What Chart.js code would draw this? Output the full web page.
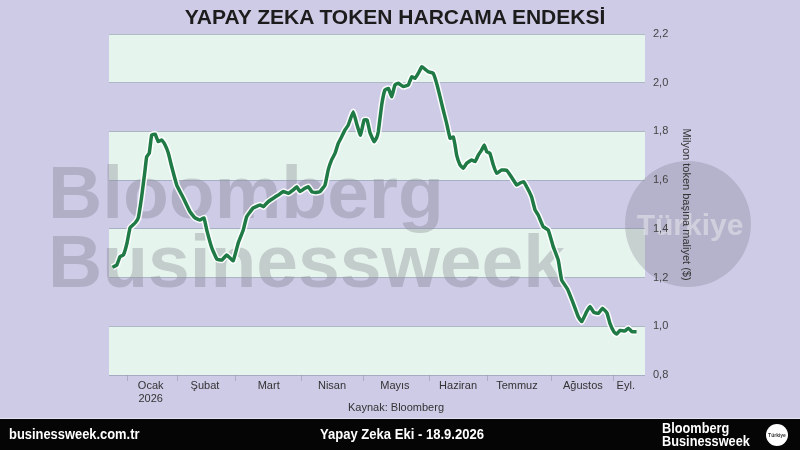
<!DOCTYPE html>
<html lang="tr">
<head>
<meta charset="utf-8">
<title>Yapay Zeka Token Harcama Endeksi</title>
<script src="https://cdn.jsdelivr.net/npm/chart.js@4.4.1/dist/chart.umd.min.js"></script>
<style>
  html, body { margin: 0; padding: 0; }
  body {
    width: 800px; height: 450px; position: relative; overflow: hidden;
    background: #cecbe7;
    font-family: "Liberation Sans", Arial, sans-serif;
  }
  #kutu { position: absolute; left: 0; top: 0; width: 800px; height: 418px; }
  #baslik {
    position: absolute; top: 5px; left: 0; width: 790px; text-align: center;
    font-weight: bold; font-size: 21px; color: #1c1c1c;
  }
  #kaynak {
    position: absolute; top: 401px; left: 0; width: 792px; text-align: center;
    font-size: 11px; color: #333;
  }
  #altbant {
    position: absolute; left: 0; top: 418px; width: 800px; height: 32px;
    background: #050505; color: #fff; border-top: 1px solid #e4e1f2; box-sizing: border-box;
    font-weight: bold;
  }
  #altbant .sol { position: absolute; left: 9px; top: 6px; font-size: 15px; transform: scaleX(0.86); transform-origin: left center; }
  #altbant .orta { position: absolute; left: 0; width: 804px; text-align: center; top: 6px; font-size: 15px; transform: scaleX(0.87); transform-origin: center center; }
  #altbant .logo { position: absolute; left: 662px; top: 2px; font-size: 15px; line-height: 13px; transform: scaleX(0.85); transform-origin: left center; }
  #altbant .rozet {
    position: absolute; left: 766px; top: 5px; width: 22px; height: 22px; border-radius: 50%;
    background: #fff; color: #333; font-size: 5px; line-height: 22px; text-align: center;
  }
</style>
</head>
<body>
<div id="kutu"><canvas id="grafik"></canvas></div>
<div id="baslik">YAPAY ZEKA TOKEN HARCAMA ENDEKSİ</div>
<div id="kaynak">Kaynak: Bloomberg</div>
<div id="altbant">
  <div class="sol">businessweek.com.tr</div>
  <div class="orta">Yapay Zeka Eki - 18.9.2026</div>
  <div class="logo">Bloomberg<br>Businessweek</div>
  <div class="rozet">Türkiye</div>
</div>
<script>
// =================== VERİLER ===================
// x: 1 Ocak 2026'dan itibaren gün (grafikten okunan yaklaşık konum)
const gunler = [-7.3, -5.1, -3.5, -1.8, 0, 1.5, 4.0, 5.6, 7.3, 9.0,
  9.8, 11.1, 12.3, 14.0, 15.6, 17.3, 19.0, 20.6, 22.3, 24.8,
  28.1, 31.4, 33.9, 36.4, 38.4, 39.8, 42.3, 44.8, 47.3, 49.8,
  51.4, 53.0, 55.5, 58.0, 59.7, 63.0, 66.4, 68.0, 70.5, 73.0,
  75.5, 78.0, 80.5, 83.0, 84.7, 86.3, 88.8, 90.5, 92.2, 93.8,
  96.3, 98.8, 100.4, 102.1, 103.8, 105.4, 107.1, 108.8, 110.4, 112.9,
  114.8, 116.5, 118.3, 119.8, 121.3, 123.3, 124.5, 125.4, 127.1, 128.7,
  130.4, 132.1, 133.7, 135.4, 137.9, 140.4, 142.1, 143.7, 145.4, 147.1,
  148.7, 150.3, 152.8, 154.5, 156.2, 157.8, 159.5, 161.2, 162.8, 163.7,
  164.5, 166.2, 167.8, 169.5, 172.0, 173.7, 175.3, 177.0, 178.3, 179.5,
  181.1, 182.8, 184.5, 187.0, 189.5, 192.0, 194.5, 196.1, 197.8, 199.5,
  201.9, 203.6, 205.2, 207.7, 210.2, 212.7, 215.2, 216.9, 219.8, 222.7,
  225.2, 226.9, 229.4, 231.0, 233.0, 235.2, 237.3, 239.5, 241.0, 243.0,
  244.4, 246.0, 248.5, 250.2, 252.0, 254.3];

// milyon token başına maliyet ($)
const endeks = [1.242, 1.252, 1.286, 1.293, 1.342, 1.404, 1.424, 1.445, 1.532, 1.642,
  1.696, 1.711, 1.785, 1.789, 1.758, 1.765, 1.744, 1.711, 1.655, 1.580,
  1.527, 1.471, 1.445, 1.436, 1.445, 1.395, 1.322, 1.276, 1.272, 1.293,
  1.280, 1.269, 1.342, 1.395, 1.450, 1.486, 1.498, 1.491, 1.512, 1.526,
  1.539, 1.553, 1.546, 1.560, 1.573, 1.553, 1.567, 1.573, 1.553, 1.549,
  1.553, 1.580, 1.642, 1.683, 1.710, 1.751, 1.778, 1.806, 1.826, 1.881,
  1.826, 1.785, 1.847, 1.847, 1.794, 1.758, 1.773, 1.799, 1.909, 1.970,
  1.977, 1.943, 1.991, 1.998, 1.984, 1.991, 2.025, 2.018, 2.039, 2.066,
  2.056, 2.045, 2.039, 1.998, 1.943, 1.888, 1.833, 1.772, 1.778, 1.744,
  1.703, 1.662, 1.649, 1.669, 1.683, 1.676, 1.703, 1.724, 1.744, 1.717,
  1.710, 1.662, 1.628, 1.642, 1.640, 1.611, 1.580, 1.588, 1.594, 1.572,
  1.531, 1.478, 1.457, 1.409, 1.395, 1.327, 1.272, 1.190, 1.153, 1.094,
  1.039, 1.019, 1.060, 1.081, 1.057, 1.053, 1.074, 1.055, 1.012, 0.977,
  0.968, 0.983, 0.981, 0.992, 0.978, 0.978];

// ay başları (çentik) ve ay ortaları (etiket)
const ayBaslangic = [0, 25, 54, 87, 118, 151, 180, 212, 243];
const ayOrtasi = [11.8, 38.9, 70.7, 102.3, 133.7, 165.2, 194.6, 227.5, 248.9];
const ayEtiketleri = [['Ocak', '2026'], 'Şubat', 'Mart', 'Nisan', 'Mayıs', 'Haziran', 'Temmuz', 'Ağustos', 'Eyl.'];

const yEksenBasligi = 'Milyon token başına maliyet ($)';

// =================== EKLENTİ: bantlar + filigran ===================
const arkaPlan = {
  id: 'arkaPlan',
  beforeDraw(chart) {
    const { ctx, chartArea: a, scales: { y } } = chart;
    ctx.save();
    // açık yeşil bantlar (0,8-1,0 / 1,2-1,4 / ...)
    ctx.fillStyle = '#e6f4ee';
    for (let i = 0; i < y.ticks.length - 1; i += 2) {
      const y1 = y.getPixelForValue(y.ticks[i].value);
      const y2 = y.getPixelForValue(y.ticks[i + 1].value);
      ctx.fillRect(a.left, y2, a.right - a.left, y1 - y2);
    }
    // filigran
    ctx.fillStyle = 'rgba(100, 100, 112, 0.27)';
    ctx.font = 'bold 75px "Liberation Sans", Arial, sans-serif';
    ctx.textBaseline = 'alphabetic';
    ctx.fillText('Bloomberg', 48, 218);
    ctx.fillText('Businessweek', 48, 287);
    ctx.beginPath();
    ctx.arc(688, 224, 63, 0, Math.PI * 2);
    ctx.fillStyle = 'rgba(120, 120, 132, 0.28)';
    ctx.fill();
    ctx.fillStyle = 'rgba(235, 235, 240, 0.5)';
    ctx.font = 'bold 30px "Liberation Sans", Arial, sans-serif';
    ctx.textAlign = 'center';
    ctx.textBaseline = 'middle';
    ctx.fillText('Türkiye', 690, 227);
    ctx.restore();
  }
};

// =================== GRAFİK ===================
const noktalar = gunler.map((g, i) => ({ x: g, y: endeks[i] }));

new Chart(document.getElementById('grafik'), {
  type: 'line',
  data: {
    datasets: [
      // yeşil çizgi üstte, beyaz hale altta
      { data: noktalar, borderColor: '#1f7a45', borderWidth: 3.5, pointRadius: 0, tension: 0.1, order: 1 },
      { data: noktalar, borderColor: 'rgba(255,255,255,0.9)', borderWidth: 6.5, pointRadius: 0, tension: 0.1, order: 2 }
    ]
  },
  options: {
    responsive: true,
    maintainAspectRatio: false,
    animation: false,
    layout: { padding: { left: 109, right: 103, top: 34, bottom: 7 } },
    plugins: { legend: { display: false }, tooltip: { enabled: false } },
    scales: {
      x: {
        type: 'linear',
        min: -9,
        max: 258.5,
        afterBuildTicks: s => {
          s.ticks = [...ayBaslangic.map(v => ({ value: v })), ...ayOrtasi.map(v => ({ value: v }))]
            .sort((p, q) => p.value - q.value);
        },
        afterFit: s => { s.height = 36; },
        border: { display: false },
        grid: {
          drawOnChartArea: false,
          tickLength: 6,
          color: c => (c.tick && ayBaslangic.includes(c.tick.value)) ? '#aeacc4' : 'rgba(0,0,0,0)'
        },
        ticks: {
          autoSkip: false,
          maxRotation: 0,
          padding: -2,
          color: '#333',
          font: { family: '"Liberation Sans", Arial, sans-serif', size: 11 },
          callback: v => {
            const i = ayOrtasi.indexOf(v);
            return i >= 0 ? ayEtiketleri[i] : '';
          }
        }
      },
      y: {
        position: 'right',
        min: 0.8,
        max: 2.2,
        afterFit: s => { s.width = 52; },
        border: { display: false },
        grid: { color: 'rgba(140, 150, 168, 0.6)', lineWidth: 1, drawTicks: false },
        ticks: {
          stepSize: 0.2,
          padding: 8,
          color: '#444',
          font: { family: '"Liberation Sans", Arial, sans-serif', size: 11 },
          callback: v => v.toFixed(1).replace('.', ',')
        },
        title: {
          display: true,
          text: yEksenBasligi,
          color: '#333',
          padding: 4,
          font: { family: '"Liberation Sans", Arial, sans-serif', size: 11 }
        }
      }
    }
  },
  plugins: [arkaPlan]
});
</script>
</body>
</html>
